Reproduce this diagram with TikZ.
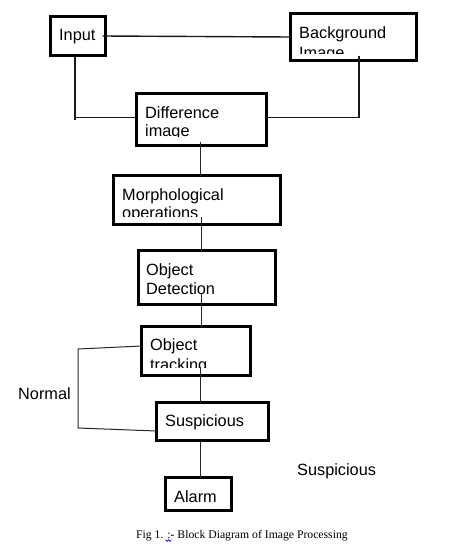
\documentclass[tikz,border=0pt]{standalone}
\usepackage{fontspec}
\setmainfont{Liberation Sans}
\newfontfamily\capfont{Liberation Serif}
\begin{document}
\begin{tikzpicture}[x=1pt,y=-1pt,
  box/.style={draw=black,line width=3pt,inner sep=0pt,outer sep=0pt},
  lbl/.style={anchor=base west,inner sep=0pt,font=\fontsize{16.3}{18}\selectfont},
  conn/.style={draw=black!85,line width=1pt},
  thick conn/.style={draw=black!90,line width=1.4pt}]
\useasboundingbox (0,0) rectangle (456,547);
% boxes
\node[box,minimum width=55pt,minimum height=39pt] (input) at (78,36) {};
\node[box,minimum width=126pt,minimum height=47pt] (bg) at (353.5,37) {};
\node[box,minimum width=130pt,minimum height=52pt] (diff) at (201.5,119.5) {};
\node[box,minimum width=167pt,minimum height=49pt] (morph) at (197,200) {};
\node[box,minimum width=137pt,minimum height=54pt] (det) at (207,277.5) {};
\node[box,minimum width=109pt,minimum height=49pt] (track) at (196,351) {};
\node[box,minimum width=112pt,minimum height=38pt] (susp) at (212.5,421.5) {};
\node[box,minimum width=66pt,minimum height=33pt] (alarm) at (198.5,494) {};
% texts
\node[lbl] (tinput) at (59,40) {Input};
\node[lbl] (tbg1) at (299,38) {Background};
\begin{scope}
  \clip (291,40) rectangle (416,53.3);
  \node[lbl] (tbg2) at (299,58.3) {Image};
\end{scope}
\node[lbl] (tdiff1) at (145,118.7) {Difference};
\begin{scope}
  \clip (137,121) rectangle (266,136.8);
  \node[lbl] (tdiff2) at (145,136.5) {image};
\end{scope}
\node[lbl] (tmorph1) at (122,200.7) {Morphological};
\begin{scope}
  \clip (114,203) rectangle (280,216.7);
  \node[lbl] (tmorph2) at (122,218.3) {operations};
\end{scope}
\node[lbl] (tdet1) at (146,275.3) {Object};
\node[lbl] (tdet2) at (146,294) {Detection};
\node[lbl] (ttrack1) at (150,350.7) {Object};
\begin{scope}
  \clip (142,353) rectangle (250,367.3);
  \node[lbl] (ttrack2) at (150,370) {tracking};
\end{scope}
\node[lbl] (tsusp) at (165,426) {Suspicious};
\node[lbl] (talarm) at (174,502) {Alarm};
\node[lbl] (tnormal) at (18,399.3) {Normal};
\node[lbl] (tsusp2) at (297,475.3) {Suspicious};
\node[anchor=base west,inner sep=0pt,font=\capfont\fontsize{11.7}{13}\selectfont] (cap) at (136,538) {Fig 1. :- Block Diagram of Image Processing};
\draw[blue!80!black,line width=0.6pt] (165.5,539.5) -- (167,541.5) -- (168.5,539.5) -- (170,541.5) -- (171.5,539.5);
% connector coordinates
\coordinate (j1) at (75,117.5);
\coordinate (j2) at (359,117.5);
\coordinate (n1) at (78,349);
\coordinate (n2) at (78,428);
% connectors
\draw[thick conn] ([xshift=-3pt]input.east) -- (bg.west);
\draw[thick conn] (input.south -| j1) -- ([yshift=-2pt]j1);
\draw[thick conn] ([xshift=-1pt]j1) -- (j1 -| diff.west);
\draw[thick conn] ([yshift=5pt]bg.south -| j2) -- (j2);
\draw[thick conn] ([xshift=-2pt]j2 -| diff.east) -- (j2);
\draw[conn] ([yshift=4pt]diff.south -| 200,0) -- (morph.north -| 200,0);
\draw[conn] ([yshift=8pt]morph.south -| 201,0) -- (det.north -| 201,0);
\draw[conn] ([yshift=12pt]det.south -| 201,0) -- (track.north -| 201,0);
\draw[conn] ([yshift=9pt]track.south -| 200,0) -- (susp.north -| 200,0);
\draw[conn] (susp.south -| 200,0) -- (alarm.north -| 200,0);
\draw[conn] ([yshift=5pt]track.west) -- (n1) -- (n2) -- ([yshift=-9.5pt]susp.west);
\end{tikzpicture}
\end{document}
